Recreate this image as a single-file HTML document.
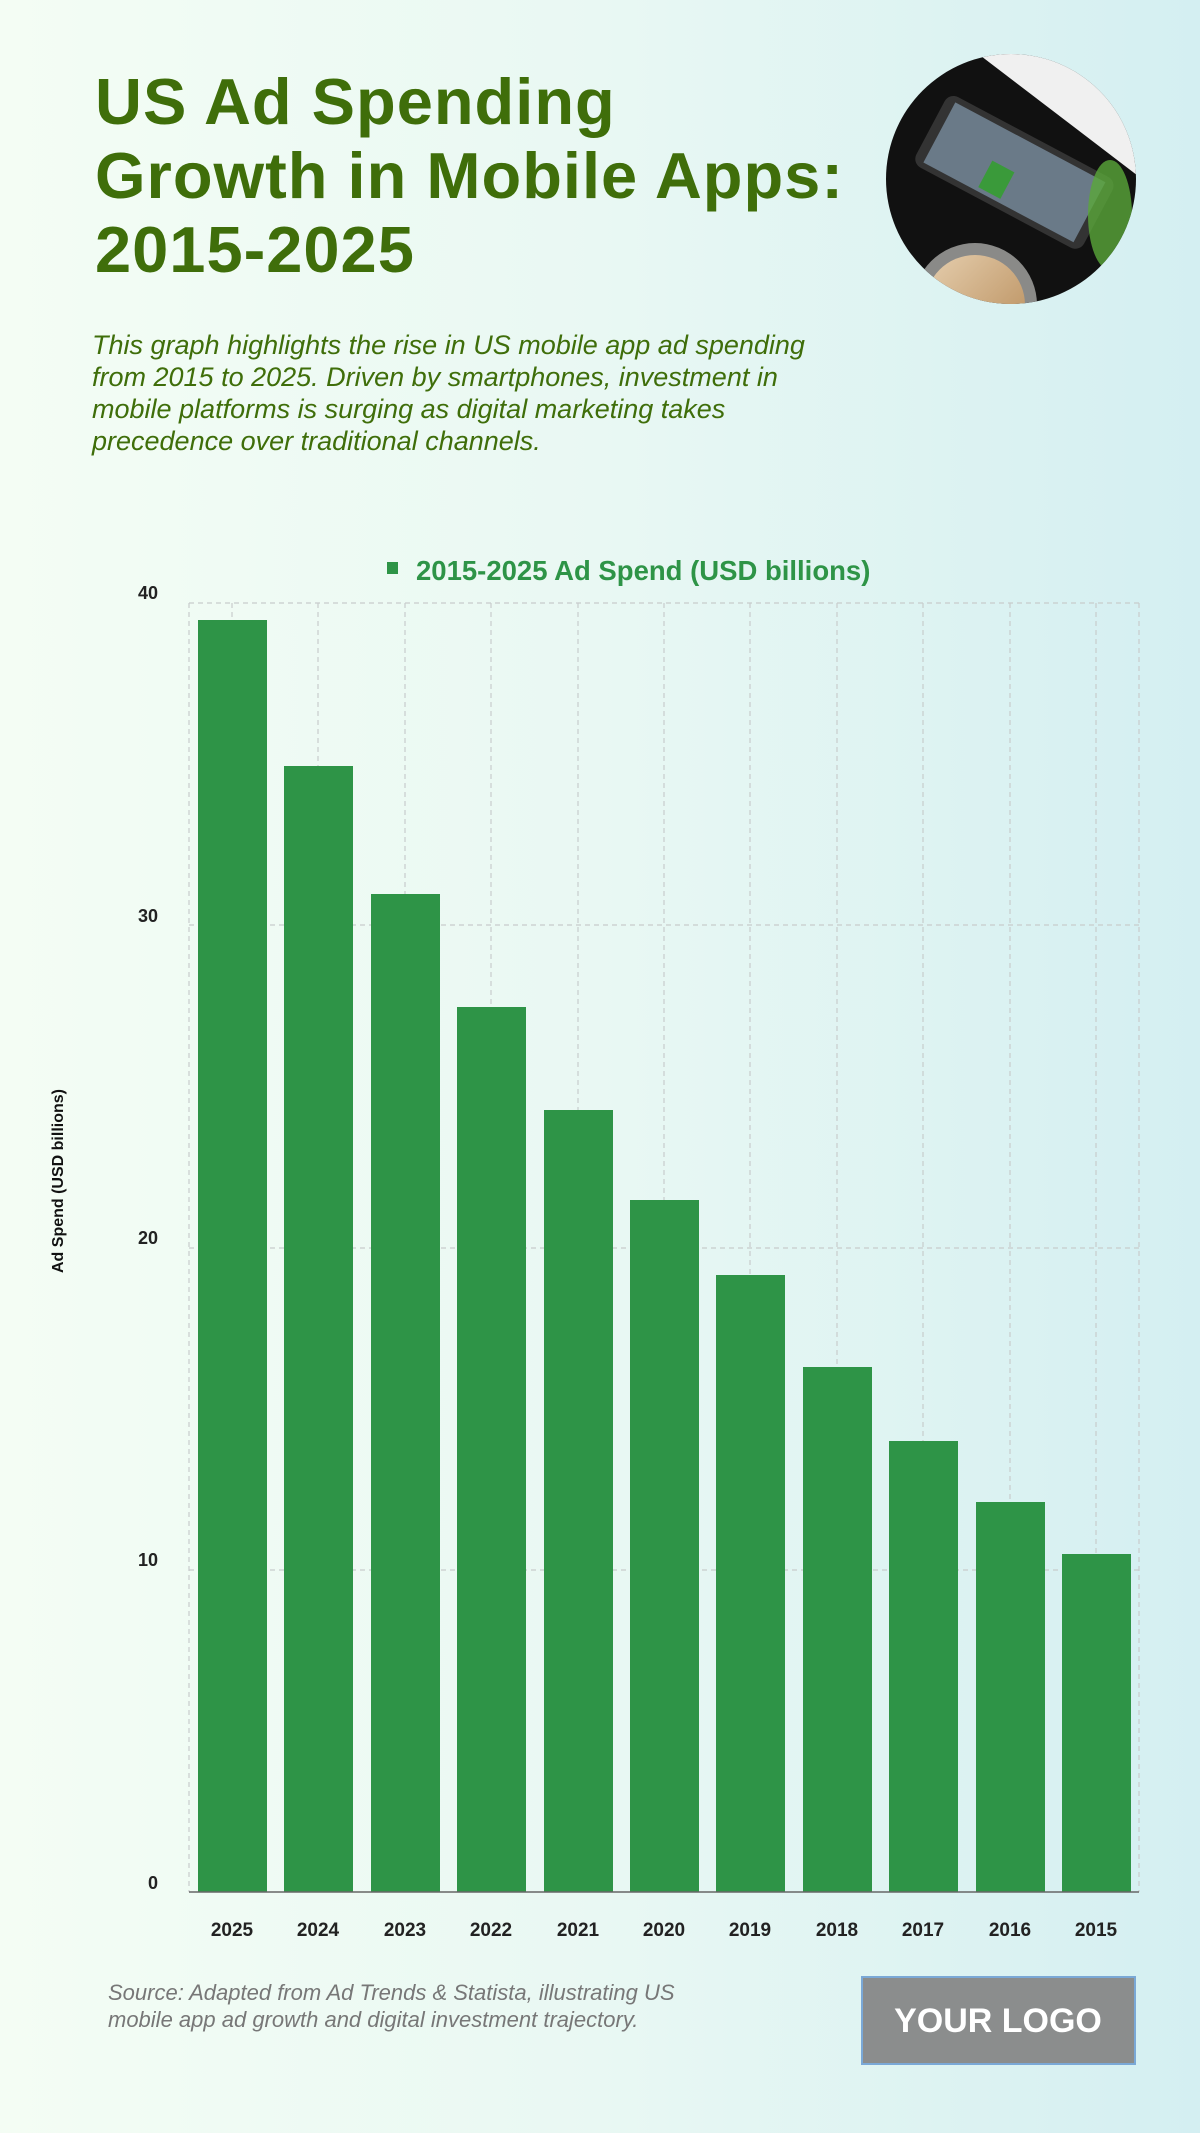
<!DOCTYPE html>
<html><head><meta charset="utf-8"><style>
html,body{margin:0;padding:0}
body{width:1200px;height:2133px;overflow:hidden;background:linear-gradient(90deg,#f4fdf4 0%,#e9f8f3 50%,#d4eff2 100%);font-family:"Liberation Sans",sans-serif}
</style></head><body>
<svg width="1200" height="2133" viewBox="0 0 1200 2133" xmlns="http://www.w3.org/2000/svg" style="position:absolute;left:0;top:0">
<defs>
<clipPath id="c"><circle cx="1011" cy="179" r="125"/></clipPath>
<linearGradient id="cup" x1="0" y1="0" x2="1" y2="1"><stop offset="0" stop-color="#e6cfaf"/><stop offset="1" stop-color="#b68a57"/></linearGradient>
</defs>
<g font-family="Liberation Sans, sans-serif" font-weight="bold" fill="#3f6e0a" font-size="65" letter-spacing="1">
<text x="95" y="124">US Ad Spending</text>
<text x="95" y="198">Growth in Mobile Apps:</text>
<text x="95" y="272">2015-2025</text>
</g>
<g font-family="Liberation Sans, sans-serif" font-style="italic" fill="#3f6e0a" font-size="27">
<text x="92" y="354">This graph highlights the rise in US mobile app ad spending</text>
<text x="92" y="386">from 2015 to 2025. Driven by smartphones, investment in</text>
<text x="92" y="418">mobile platforms is surging as digital marketing takes</text>
<text x="92" y="450">precedence over traditional channels.</text>
</g>
<g clip-path="url(#c)">
<rect x="880" y="50" width="260" height="260" fill="#111"/>
<polygon points="960,40 1150,40 1150,185" fill="#f0f0f0"/>
<g transform="rotate(28 1010 170)"><rect x="920" y="130" width="190" height="80" rx="10" fill="#333"/><rect x="930" y="136" width="170" height="68" fill="#6a7a88"/><rect x="990" y="170" width="25" height="30" fill="#3a9a3a"/></g>
<circle cx="975" cy="305" r="62" fill="#8a8a88"/>
<circle cx="975" cy="305" r="50" fill="url(#cup)"/>
<ellipse cx="1110" cy="215" rx="22" ry="55" fill="#5aa83a" opacity="0.8"/>
</g>
<g stroke="#c8cccc" stroke-width="1.2" stroke-dasharray="5,4" fill="none">
<line x1="189" y1="603" x2="1139" y2="603"/>
<line x1="189" y1="925" x2="1139" y2="925"/>
<line x1="189" y1="1248" x2="1139" y2="1248"/>
<line x1="189" y1="1570" x2="1139" y2="1570"/>
<line x1="189" y1="603" x2="189" y2="1892"/>
<line x1="1139" y1="603" x2="1139" y2="1892"/>
<line x1="232" y1="603" x2="232" y2="1892"/><line x1="318" y1="603" x2="318" y2="1892"/><line x1="405" y1="603" x2="405" y2="1892"/><line x1="491" y1="603" x2="491" y2="1892"/><line x1="578" y1="603" x2="578" y2="1892"/><line x1="664" y1="603" x2="664" y2="1892"/><line x1="750" y1="603" x2="750" y2="1892"/><line x1="837" y1="603" x2="837" y2="1892"/><line x1="923" y1="603" x2="923" y2="1892"/><line x1="1010" y1="603" x2="1010" y2="1892"/><line x1="1096" y1="603" x2="1096" y2="1892"/>
</g>
<g fill="#2e9447">
<rect x="198" y="620" width="69" height="1272"/>
<rect x="284" y="766" width="69" height="1126"/>
<rect x="371" y="894" width="69" height="998"/>
<rect x="457" y="1007" width="69" height="885"/>
<rect x="544" y="1110" width="69" height="782"/>
<rect x="630" y="1200" width="69" height="692"/>
<rect x="716" y="1275" width="69" height="617"/>
<rect x="803" y="1367" width="69" height="525"/>
<rect x="889" y="1441" width="69" height="451"/>
<rect x="976" y="1502" width="69" height="390"/>
<rect x="1062" y="1554" width="69" height="338"/>
</g>
<line x1="189" y1="1892" x2="1139" y2="1892" stroke="#666" stroke-width="1.5"/>
<g font-family="Liberation Sans, sans-serif" font-weight="bold" fill="#222" font-size="18" text-anchor="end">
<text x="158" y="599">40</text><text x="158" y="922">30</text><text x="158" y="1244">20</text><text x="158" y="1566">10</text><text x="158" y="1889">0</text>
</g>
<g font-family="Liberation Sans, sans-serif" font-weight="bold" fill="#222" font-size="19" text-anchor="middle">
<text x="232" y="1936">2025</text><text x="318" y="1936">2024</text><text x="405" y="1936">2023</text><text x="491" y="1936">2022</text><text x="578" y="1936">2021</text><text x="664" y="1936">2020</text><text x="750" y="1936">2019</text><text x="837" y="1936">2018</text><text x="923" y="1936">2017</text><text x="1010" y="1936">2016</text><text x="1096" y="1936">2015</text>
</g>
<text transform="translate(63 1181) rotate(-90)" text-anchor="middle" font-family="Liberation Sans, sans-serif" font-weight="bold" font-size="16" fill="#111">Ad Spend (USD billions)</text>
<rect x="387" y="562" width="11" height="12" fill="#2e9447"/>
<text x="416" y="580" font-family="Liberation Sans, sans-serif" font-weight="bold" font-size="27.5" fill="#2e9447">2015-2025 Ad Spend (USD billions)</text>
<g font-family="Liberation Sans, sans-serif" font-style="italic" fill="#777" font-size="22">
<text x="108" y="2000">Source: Adapted from Ad Trends &amp; Statista, illustrating US</text>
<text x="108" y="2027">mobile app ad growth and digital investment trajectory.</text>
</g>
<rect x="862" y="1977" width="273" height="87" fill="#8b8d8d" stroke="#7aa8d6" stroke-width="2"/>
<text x="998" y="2032" text-anchor="middle" font-family="Liberation Sans, sans-serif" font-weight="bold" font-size="34" fill="#fff">YOUR LOGO</text>
</svg>
</body></html>
